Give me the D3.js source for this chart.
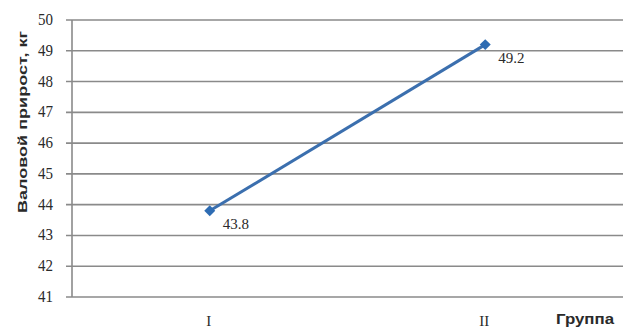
<!DOCTYPE html>
<html>
<head>
<meta charset="utf-8">
<script src="https://cdn.jsdelivr.net/npm/d3@7"></script>
<style>
  body { margin: 0; background: #fff; }
  .serif { font-family: "Times New Roman", "Liberation Serif", serif; }
</style>
</head>
<body>
<div id="content"></div>
<script>
// Screen dimensions
var w = 632;
var h = 330;

// Data
var groups = ["I", "II"];
var gain = [43.8, 49.2];
var yTicks = [41, 42, 43, 44, 45, 46, 47, 48, 49, 50];

// Plot area (note: "top" is reserved on window, so prefix these)
var plotLeft = 72, plotRight = 623, plotTop = 20, plotBottom = 297;

var svg = d3.select("#content")
    .append("svg")
    .attr("width", w)
    .attr("height", h);

var x = d3.scalePoint()
    .domain(groups)
    .range([plotLeft, plotRight])
    .padding(0.5);

var y = d3.scaleLinear()
    .domain([41, 50])
    .range([plotBottom, plotTop]);

// Gridlines
svg.append("g")
   .selectAll("line")
   .data(yTicks)
   .enter()
   .append("line")
   .attr("x1", plotLeft - 6)
   .attr("x2", plotRight)
   .attr("y1", function(d) { return y(d); })
   .attr("y2", function(d) { return y(d); })
   .attr("stroke", "#8a8a8a")
   .attr("stroke-width", 1.6);

// Y axis line
svg.append("line")
   .attr("x1", plotLeft)
   .attr("x2", plotLeft)
   .attr("y1", y(50))
   .attr("y2", y(41))
   .attr("stroke", "#8a8a8a")
   .attr("stroke-width", 1.6);

// Y tick labels (digits a bit taller, like the stretched original)
svg.append("g")
   .selectAll("text")
   .data(yTicks)
   .enter()
   .append("text")
   .attr("class", "serif")
   .attr("transform", function(d) { return "translate(53," + (y(d) + 5) + ") scale(1,1.15)"; })
   .attr("text-anchor", "end")
   .attr("font-size", 15)
   .attr("fill", "#2a2a2a")
   .text(function(d) { return d; });

// X labels
svg.append("g")
   .selectAll("text")
   .data(groups)
   .enter()
   .append("text")
   .attr("class", "serif")
   .attr("x", function(d) { return x(d) - 1; })
   .attr("y", 326)
   .attr("text-anchor", "middle")
   .attr("font-size", 15)
   .attr("fill", "#2a2a2a")
   .text(function(d) { return d; });

// Axis titles
svg.append("text")
   .attr("transform", "translate(27,122) rotate(-90)")
   .attr("text-anchor", "middle")
   .attr("font-family", "Liberation Sans, Arial, sans-serif")
   .attr("font-weight", "bold")
   .attr("font-size", 12.5)
   .attr("textLength", 182)
   .attr("lengthAdjust", "spacingAndGlyphs")
   .attr("fill", "#2a2a2a")
   .text("Валовой прирост, кг");

svg.append("text")
   .attr("x", 614)
   .attr("y", 324)
   .attr("text-anchor", "end")
   .attr("font-family", "Liberation Sans, Arial, sans-serif")
   .attr("font-weight", "bold")
   .attr("font-size", 15)
   .attr("textLength", 58)
   .attr("lengthAdjust", "spacingAndGlyphs")
   .attr("fill", "#2a2a2a")
   .text("Группа");

// Line
var pts = groups.map(function(g, i) { return [x(g), y(gain[i])]; });
svg.append("path")
   .attr("d", d3.line()(pts))
   .attr("fill", "none")
   .attr("stroke", "#3b6fae")
   .attr("stroke-width", 3);

// Markers
svg.append("g")
   .selectAll("path")
   .data(pts)
   .enter()
   .append("path")
   .attr("transform", function(d) { return "translate(" + d[0] + "," + d[1] + ") rotate(45)"; })
   .attr("d", d3.symbol().type(d3.symbolSquare).size(60))
   .attr("fill", "#2e6cb3");

// Data labels
svg.append("g")
   .selectAll("text")
   .data(gain)
   .enter()
   .append("text")
   .attr("class", "serif")
   .attr("x", function(d, i) { return x(groups[i]) + 13; })
   .attr("y", function(d) { return y(d) + 18; })
   .attr("font-size", 15)
   .attr("fill", "#2a2a2a")
   .text(function(d) { return d.toFixed(1); });
</script>
</body>
</html>
